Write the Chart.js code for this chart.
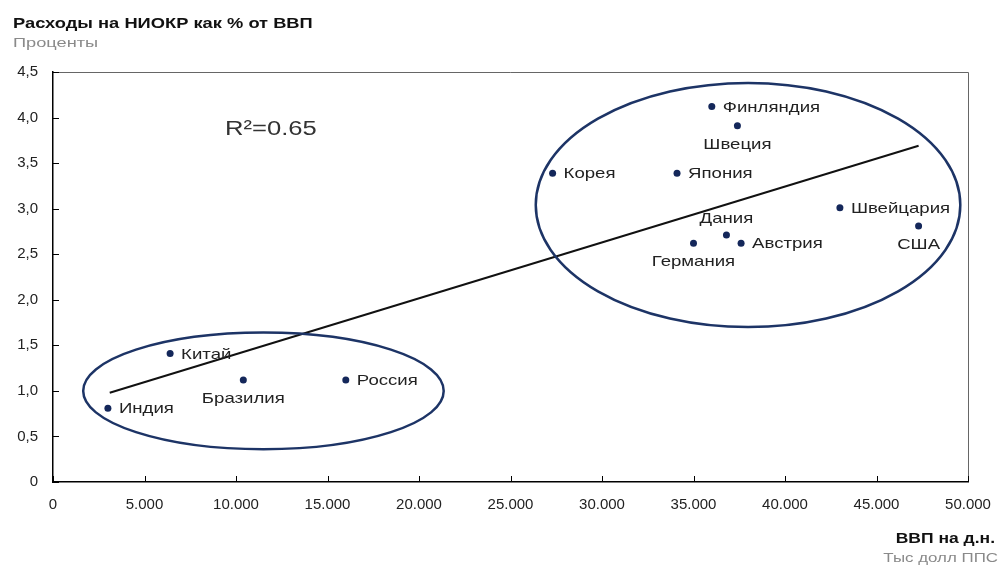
<!DOCTYPE html>
<html>
<head>
<meta charset="utf-8">
<script src="https://cdn.jsdelivr.net/npm/chart.js@4.4.0/dist/chart.umd.min.js"></script>
<style>
  html, body { margin: 0; padding: 0; background: #fff; overflow: hidden; }
  #wrap { width: 998px; height: 565px; }
</style>
</head>
<body>
<div id="wrap"><canvas id="rnd-chart"></canvas></div>
<script>
// values
const countries = ["Финляндия", "Швеция", "Корея", "Япония", "Швейцария", "США", "Дания", "Австрия", "Германия", "Китай", "Бразилия", "Россия", "Индия"];
const gdpPerCapita = [36000, 37400, 27300, 34100, 43000, 47300, 36800, 37600, 35000, 6400, 10400, 16000, 3000];
const rndShare = [4.12, 3.91, 3.39, 3.39, 3.01, 2.81, 2.71, 2.62, 2.62, 1.41, 1.12, 1.12, 0.81];
const labelSide = ["right", "below", "right", "right", "right", "below", "above", "right", "below", "right", "below", "right", "right"];

const trendX = [3100, 47300];
const trendY = [0.98, 3.69];

const xTicks = [0, 5000, 10000, 15000, 20000, 25000, 30000, 35000, 40000, 45000, 50000];
const yTicks = [0, 0.5, 1, 1.5, 2, 2.5, 3, 3.5, 4, 4.5];

// circled groups: centre and radii in data units
const groupCx = [37980, 11500];
const groupCy = [3.04, 1.0];
const groupRx = [11600, 9850];
const groupRy = [1.34, 0.64];

const font = "'Liberation Sans', Arial, sans-serif";
const dotColor = "#14275a";

// the source picture is a bit stretched sideways, so text is too
function wideText(ctx, text, x, y, sx, align) {
    ctx.save();
    ctx.translate(x, y);
    ctx.scale(sx, 1);
    ctx.textAlign = align;
    ctx.fillText(text, 0, 0);
    ctx.restore();
}

const decor = {
    id: 'decor',
    afterDatasetsDraw(chart) {
        const ctx = chart.ctx;
        const area = chart.chartArea;
        const xs = chart.scales.x;
        const ys = chart.scales.y;

        ctx.save();
        // top and right frame
        ctx.strokeStyle = "#666";
        ctx.lineWidth = 1;
        ctx.beginPath();
        ctx.moveTo(area.left, area.top + 0.5);
        ctx.lineTo(area.right + 0.5, area.top + 0.5);
        ctx.lineTo(area.right + 0.5, area.bottom);
        ctx.stroke();

        // inward tick marks
        ctx.strokeStyle = "#000";
        ctx.beginPath();
        for (const v of yTicks) {
            const py = Math.round(ys.getPixelForValue(v)) + 0.5;
            ctx.moveTo(area.left, py);
            ctx.lineTo(area.left + 6, py);
        }
        for (const v of xTicks) {
            const px = Math.round(xs.getPixelForValue(v)) + 0.5;
            ctx.moveTo(px, area.bottom);
            ctx.lineTo(px, area.bottom - 6);
        }
        ctx.stroke();

        // ellipses round the groups
        ctx.strokeStyle = "#1d3466";
        ctx.lineWidth = 2.5;
        groupCx.forEach((cx, i) => {
            const px = xs.getPixelForValue(cx);
            const py = ys.getPixelForValue(groupCy[i]);
            const rx = Math.abs(xs.getPixelForValue(cx + groupRx[i]) - px);
            const ry = Math.abs(ys.getPixelForValue(groupCy[i] + groupRy[i]) - py);
            ctx.beginPath();
            ctx.ellipse(px, py, rx, ry, 0, 0, Math.PI * 2);
            ctx.stroke();
        });

        // country labels
        ctx.fillStyle = "#222";
        ctx.font = "15px " + font;
        ctx.textBaseline = "middle";
        const pts = chart.getDatasetMeta(0).data;
        pts.forEach((pt, i) => {
            const side = labelSide[i];
            if (side === "right") {
                wideText(ctx, countries[i], pt.x + 11, pt.y + 1, 1.24, "left");
            } else if (side === "below") {
                wideText(ctx, countries[i], pt.x, pt.y + 19, 1.24, "center");
            } else {
                wideText(ctx, countries[i], pt.x, pt.y - 16, 1.24, "center");
            }
        });

        // R squared note
        ctx.textBaseline = "alphabetic";
        ctx.fillStyle = "#333";
        ctx.font = "20px " + font;
        wideText(ctx, "R²=0.65", 225, 135, 1.28, "left");

        // titles
        ctx.fillStyle = "#111";
        ctx.font = "bold 15px " + font;
        wideText(ctx, "Расходы на НИОКР как % от ВВП", 13, 28, 1.22, "left");
        ctx.fillStyle = "#8a8a8a";
        ctx.font = "13px " + font;
        wideText(ctx, "Проценты", 13, 47, 1.4, "left");

        ctx.fillStyle = "#111";
        ctx.font = "bold 14px " + font;
        wideText(ctx, "ВВП на д.н.", 995, 543, 1.25, "right");
        ctx.fillStyle = "#8a8a8a";
        ctx.font = "13px " + font;
        wideText(ctx, "Тыс долл ППС", 998, 562, 1.3, "right");
        ctx.restore();
    }
};

const points = gdpPerCapita.map((x, i) => ({ x: x, y: rndShare[i] }));
const trend = trendX.map((x, i) => ({ x: x, y: trendY[i] }));

const chart = new Chart(document.getElementById('rnd-chart'), {
    type: 'scatter',
    data: {
        datasets: [
            {
                data: points,
                pointRadius: 3.5,
                pointHoverRadius: 3.5,
                backgroundColor: dotColor,
                borderWidth: 0
            },
            {
                type: 'line',
                data: trend,
                borderColor: "#111",
                borderWidth: 2,
                pointRadius: 0,
                fill: false
            }
        ]
    },
    options: {
        responsive: true,
        maintainAspectRatio: false,
        animation: false,
        layout: { padding: { top: 72, left: 0, right: 30, bottom: 0 } },
        scales: {
            x: {
                type: 'linear',
                min: 0,
                max: 50000,
                afterBuildTicks: (s) => { s.ticks = xTicks.map(v => ({ value: v })); },
                afterFit: (s) => { s.height = 83; s.paddingLeft = 0; s.paddingRight = 0; },
                grid: { display: true, drawOnChartArea: false, drawTicks: false },
                border: { display: true, color: "#000", width: 1.5 },
                ticks: {
                    padding: 14,
                    color: "#222",
                    maxRotation: 0,
                    font: { family: font, size: 15 },
                    callback: (v) => v === 0 ? "0" : (v / 1000).toFixed(3)
                }
            },
            y: {
                min: 0,
                max: 4.5,
                afterBuildTicks: (s) => { s.ticks = yTicks.map(v => ({ value: v })); },
                afterFit: (s) => { s.width = 53; s.paddingTop = 0; s.paddingBottom = 0; },
                grid: { display: true, drawOnChartArea: false, drawTicks: false },
                border: { display: true, color: "#000", width: 1.5 },
                ticks: {
                    padding: 15,
                    color: "#222",
                    font: { family: font, size: 15 },
                    callback: (v) => v === 0 ? "0" : v.toFixed(1).replace('.', ',')
                }
            }
        },
        plugins: {
            legend: { display: false },
            tooltip: { enabled: false }
        }
    },
    plugins: [decor]
});
</script>
</body>
</html>
